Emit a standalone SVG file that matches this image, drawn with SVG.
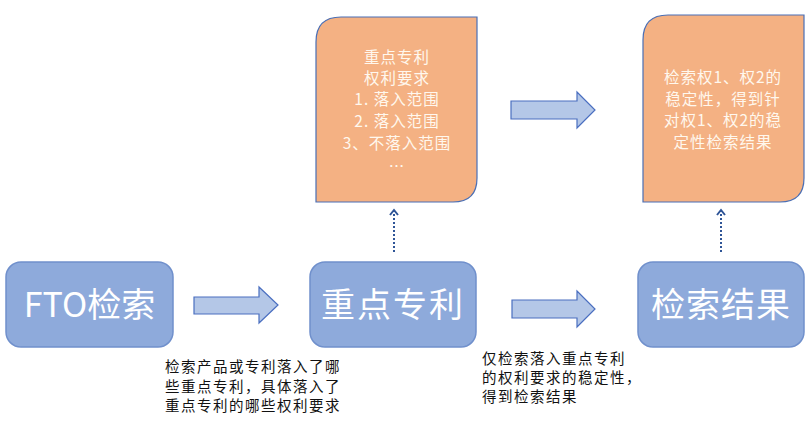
<svg xmlns="http://www.w3.org/2000/svg" width="811" height="424" viewBox="0 0 811 424">
<defs>
<style>
.blue{fill:#8eaadb;stroke:#7090cc;stroke-width:1.5}
.orange{fill:#f4b183;stroke:#4a6fb5;stroke-width:1.2}
.big{font-family:"Noto Sans CJK SC","Liberation Serif",serif;fill:#ffffff;text-anchor:middle;font-size:34px}
.mid{font-family:"Noto Sans CJK SC","Liberation Sans",sans-serif;fill:#fff8ee;text-anchor:middle;font-size:15.5px;letter-spacing:1px}
.note{font-family:"Noto Sans CJK SC","Liberation Sans",sans-serif;fill:#111111;font-size:14.5px;letter-spacing:1.5px}
.barrow{fill:#b4c7e7;stroke:#4a6fc0;stroke-width:1.2}
.dot{stroke:#2f5597;stroke-width:2;stroke-dasharray:2 2;fill:none}
</style>
<marker id="ah" viewBox="0 0 10 10" refX="7" refY="5" markerWidth="10" markerHeight="10" markerUnits="userSpaceOnUse" orient="auto">
<path d="M2,1 L7,5 L2,9" fill="none" stroke="#2f5597" stroke-width="2"/>
</marker>
</defs>
<rect width="811" height="424" fill="#ffffff"/>

<g id="node-fto">
<rect class="blue" x="6" y="262" width="167" height="85" rx="15"/>
<text class="big" x="89.5" y="317">FTO检索</text>
</g>
<g id="node-key">
<rect class="blue" x="310" y="262" width="166" height="85" rx="15"/>
<text class="big" x="393" y="317" letter-spacing="2">重点专利</text>
</g>
<g id="node-result">
<rect class="blue" x="638" y="262" width="166" height="85" rx="15"/>
<text class="big" x="721" y="317" letter-spacing="1">检索结果</text>
</g>

<g id="node-claims">
<path class="orange" d="M341,17 L477,17 L477,178 Q477,202 453,202 L316,202 L316,42 Q316,17 341,17 Z"/>
<text class="mid" x="397" y="63">重点专利</text>
<text class="mid" x="397" y="84">权利要求</text>
<text class="mid" x="397" y="105">1. 落入范围</text>
<text class="mid" x="397" y="127">2. 落入范围</text>
<text class="mid" x="397" y="149">3、不落入范围</text>
<text class="mid" x="397" y="172">…</text>
</g>
<g id="node-stability">
<path class="orange" d="M668,15 L804,15 L804,178 Q804,202 780,202 L643,202 L643,40 Q643,15 668,15 Z"/>
<text class="mid" x="723" y="83">检索权1、权2的</text>
<text class="mid" x="723" y="105">稳定性，得到针</text>
<text class="mid" x="723" y="126">对权1、权2的稳</text>
<text class="mid" x="723" y="148">定性检索结果</text>
</g>

<g id="connectors">
<path class="barrow" d="M194,297 L259,297 L259,287 L278,305 L259,323 L259,314 L194,314 Z"/>
<path class="barrow" d="M512,300 L577,300 L577,291 L595,309 L577,327 L577,318 L512,318 Z"/>
<path class="barrow" d="M511,101 L577,101 L577,92 L595,110 L577,128 L577,119 L511,119 Z"/>
<line class="dot" x1="394" y1="252" x2="394" y2="210" marker-end="url(#ah)"/>
<line class="dot" x1="721" y1="252" x2="721" y2="210" marker-end="url(#ah)"/>
</g>

<g id="notes">
<text class="note" x="165" y="372">检索产品或专利落入了哪</text>
<text class="note" x="165" y="392">些重点专利，具体落入了</text>
<text class="note" x="165" y="411">重点专利的哪些权利要求</text>
<text class="note" x="482" y="364">仅检索落入重点专利</text>
<text class="note" x="482" y="383">的权利要求的稳定性，</text>
<text class="note" x="482" y="402">得到检索结果</text>
</g>
</svg>
